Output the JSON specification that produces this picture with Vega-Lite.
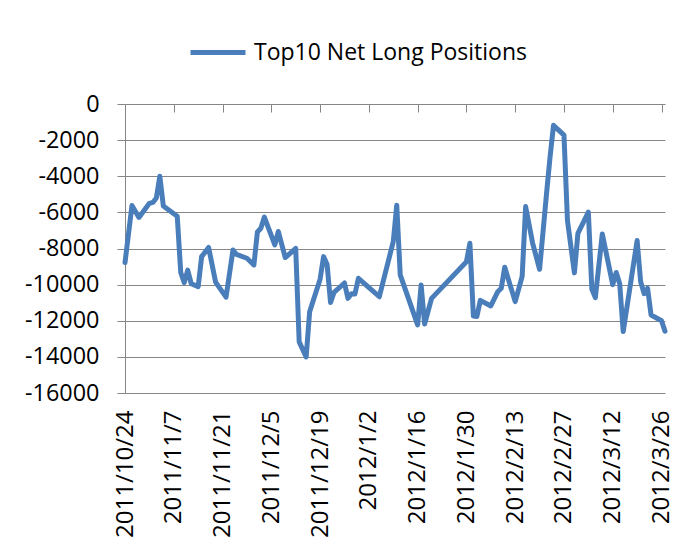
{
  "$schema": "https://vega.github.io/schema/vega-lite/v6.json",
  "width": 540,
  "height": 289,
  "autosize": {"type": "none"},
  "padding": {"left": 125, "top": 104, "right": 26, "bottom": 155},
  "background": "white",
  "config": {
    "view": {"stroke": null},
    "font": "Open Sans"
  },
  "data": {
    "values": [
      {"date": "2011-10-24", "value": -8780},
      {"date": "2011-10-26", "value": -5620},
      {"date": "2011-10-28", "value": -6280},
      {"date": "2011-10-31", "value": -5500},
      {"date": "2011-11-01", "value": -5450},
      {"date": "2011-11-02", "value": -5200},
      {"date": "2011-11-03", "value": -4000},
      {"date": "2011-11-04", "value": -5650},
      {"date": "2011-11-08", "value": -6220},
      {"date": "2011-11-09", "value": -9330},
      {"date": "2011-11-10", "value": -9890},
      {"date": "2011-11-11", "value": -9200},
      {"date": "2011-11-12", "value": -9950},
      {"date": "2011-11-14", "value": -10110},
      {"date": "2011-11-15", "value": -8450},
      {"date": "2011-11-17", "value": -7940},
      {"date": "2011-11-19", "value": -9860},
      {"date": "2011-11-22", "value": -10690},
      {"date": "2011-11-24", "value": -8080},
      {"date": "2011-11-25", "value": -8330},
      {"date": "2011-11-28", "value": -8540},
      {"date": "2011-11-30", "value": -8910},
      {"date": "2011-12-01", "value": -7090},
      {"date": "2011-12-02", "value": -6880},
      {"date": "2011-12-03", "value": -6260},
      {"date": "2011-12-06", "value": -7800},
      {"date": "2011-12-07", "value": -7060},
      {"date": "2011-12-09", "value": -8500},
      {"date": "2011-12-12", "value": -8000},
      {"date": "2011-12-13", "value": -13170},
      {"date": "2011-12-15", "value": -14000},
      {"date": "2011-12-16", "value": -11500},
      {"date": "2011-12-19", "value": -9700},
      {"date": "2011-12-20", "value": -8450},
      {"date": "2011-12-21", "value": -8870},
      {"date": "2011-12-22", "value": -10990},
      {"date": "2011-12-23", "value": -10430},
      {"date": "2011-12-26", "value": -9910},
      {"date": "2011-12-27", "value": -10760},
      {"date": "2011-12-28", "value": -10500},
      {"date": "2011-12-29", "value": -10520},
      {"date": "2011-12-30", "value": -9650},
      {"date": "2012-01-05", "value": -10670},
      {"date": "2012-01-09", "value": -7620},
      {"date": "2012-01-10", "value": -5600},
      {"date": "2012-01-11", "value": -9460},
      {"date": "2012-01-16", "value": -12230},
      {"date": "2012-01-17", "value": -10020},
      {"date": "2012-01-18", "value": -12180},
      {"date": "2012-01-20", "value": -10760},
      {"date": "2012-01-30", "value": -8730},
      {"date": "2012-01-31", "value": -7710},
      {"date": "2012-02-01", "value": -11740},
      {"date": "2012-02-02", "value": -11770},
      {"date": "2012-02-03", "value": -10870},
      {"date": "2012-02-06", "value": -11180},
      {"date": "2012-02-08", "value": -10390},
      {"date": "2012-02-09", "value": -10200},
      {"date": "2012-02-10", "value": -9040},
      {"date": "2012-02-13", "value": -10940},
      {"date": "2012-02-15", "value": -9540},
      {"date": "2012-02-16", "value": -5680},
      {"date": "2012-02-18", "value": -7700},
      {"date": "2012-02-20", "value": -9150},
      {"date": "2012-02-22", "value": -4950},
      {"date": "2012-02-23", "value": -2950},
      {"date": "2012-02-24", "value": -1180},
      {"date": "2012-02-27", "value": -1720},
      {"date": "2012-02-28", "value": -6450},
      {"date": "2012-03-01", "value": -9350},
      {"date": "2012-03-02", "value": -7160},
      {"date": "2012-03-05", "value": -5990},
      {"date": "2012-03-06", "value": -10250},
      {"date": "2012-03-07", "value": -10720},
      {"date": "2012-03-09", "value": -7200},
      {"date": "2012-03-12", "value": -10000},
      {"date": "2012-03-13", "value": -9330},
      {"date": "2012-03-14", "value": -9950},
      {"date": "2012-03-15", "value": -12600},
      {"date": "2012-03-19", "value": -7560},
      {"date": "2012-03-20", "value": -9830},
      {"date": "2012-03-21", "value": -10500},
      {"date": "2012-03-22", "value": -10200},
      {"date": "2012-03-23", "value": -11680},
      {"date": "2012-03-26", "value": -12000},
      {"date": "2012-03-27", "value": -12580}
    ]
  },
  "encoding": {
    "y": {
      "field": "value",
      "type": "quantitative",
      "scale": {"domain": [-16000, 0], "nice": false},
      "axis": {
        "title": null,
        "values": [0, -2000, -4000, -6000, -8000, -10000, -12000, -14000, -16000],
        "labelExpr": "'' + datum.value",
        "labelFontSize": 23.4,
        "labelFont": "Open Sans",
        "labelColor": "#000000",
        "labelPadding": 18,
        "tickSize": 8,
        "tickColor": "#868686",
        "domainColor": "#868686",
        "gridColor": "#868686",
        "gridWidth": 1,
        "domainWidth": 1,
        "grid": true
      }
    }
  },
  "resolve": {"axis": {"x": "independent"}},
  "layer": [
    {
      "mark": {"type": "line", "strokeWidth": 5, "strokeJoin": "round", "strokeCap": "round"},
      "encoding": {
        "x": {
          "field": "date",
          "type": "temporal",
          "scale": {"type": "utc", "domain": [{"year": 2011, "month": 10, "date": 24, "utc": true}, {"year": 2012, "month": 3, "date": 27, "utc": true}]},
          "axis": {
            "orient": "bottom",
            "title": null,
            "domain": false,
            "ticks": false,
            "tickSize": 0,
            "grid": false,
            "labelAngle": -90,
            "labelPadding": 17,
            "labelFontSize": 24,
            "labelColor": "#000000",
            "labelFont": "Open Sans",
            "labelOverlap": false,
            "format": "%Y/%-m/%-d",
            "values": [
              {"year": 2011, "month": 10, "date": 24, "utc": true},
              {"year": 2011, "month": 11, "date": 7, "utc": true},
              {"year": 2011, "month": 11, "date": 21, "utc": true},
              {"year": 2011, "month": 12, "date": 5, "utc": true},
              {"year": 2011, "month": 12, "date": 19, "utc": true},
              {"year": 2012, "month": 1, "date": 2, "utc": true},
              {"year": 2012, "month": 1, "date": 16, "utc": true},
              {"year": 2012, "month": 1, "date": 30, "utc": true},
              {"year": 2012, "month": 2, "date": 13, "utc": true},
              {"year": 2012, "month": 2, "date": 27, "utc": true},
              {"year": 2012, "month": 3, "date": 12, "utc": true},
              {"year": 2012, "month": 3, "date": 26, "utc": true}
            ]
          }
        },
        "color": {
          "datum": "Top10 Net Long Positions",
          "type": "nominal",
          "scale": {"range": ["#4A7EBB"]},
          "legend": {
            "orient": "none",
            "legendX": 63,
            "legendY": -81.5,
            "title": null,
            "padding": 0,
            "symbolType": "stroke",
            "symbolSize": 3025,
            "symbolStrokeWidth": 5,
            "labelFontSize": 23,
            "labelFont": "Open Sans",
            "labelColor": "#000000",
            "labelOffset": 6,
            "labelLimit": 0
          }
        }
      }
    },
    {
      "mark": {"type": "line", "opacity": 0},
      "encoding": {
        "x": {
          "field": "date",
          "type": "temporal",
          "scale": {"type": "utc", "domain": [{"year": 2011, "month": 10, "date": 24, "utc": true}, {"year": 2012, "month": 3, "date": 27, "utc": true}]},
          "axis": {
            "orient": "top",
            "title": null,
            "labels": false,
            "domain": false,
            "grid": false,
            "ticks": true,
            "tickSize": 8,
            "offset": -8,
            "tickColor": "#868686",
            "tickWidth": 1,
            "values": [
              {"year": 2011, "month": 10, "date": 24, "utc": true},
              {"year": 2011, "month": 11, "date": 7, "utc": true},
              {"year": 2011, "month": 11, "date": 21, "utc": true},
              {"year": 2011, "month": 12, "date": 5, "utc": true},
              {"year": 2011, "month": 12, "date": 19, "utc": true},
              {"year": 2012, "month": 1, "date": 2, "utc": true},
              {"year": 2012, "month": 1, "date": 16, "utc": true},
              {"year": 2012, "month": 1, "date": 30, "utc": true},
              {"year": 2012, "month": 2, "date": 13, "utc": true},
              {"year": 2012, "month": 2, "date": 27, "utc": true},
              {"year": 2012, "month": 3, "date": 12, "utc": true},
              {"year": 2012, "month": 3, "date": 26, "utc": true}
            ]
          }
        }
      }
    }
  ]
}
